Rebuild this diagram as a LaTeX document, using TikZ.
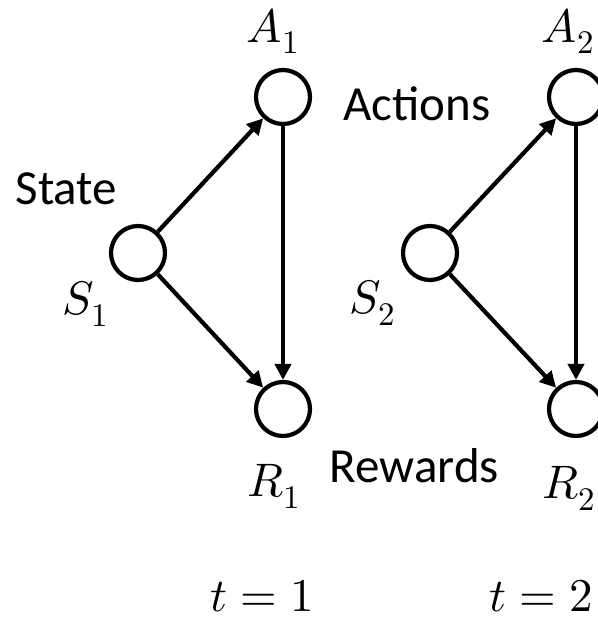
\documentclass[tikz,border=0pt]{standalone}
\usepackage{unicode-math}
\newfontfamily\carlito{Carlito}
\usetikzlibrary{positioning,arrows.meta}

\begin{document}
\begin{tikzpicture}[x=1pt,y=-1pt,
  stnode/.style={circle, draw=black, line width=4.2pt, minimum size=54pt, inner sep=0pt},
  flow/.style={-{Triangle[length=16pt,width=16pt]}, line width=4.2pt},
  wordlbl/.style={font=\carlito\fontsize{49}{58}\selectfont, inner sep=0pt},
  mathlbl/.style={font=\fontsize{47}{56}\selectfont, inner sep=0pt},
]
\useasboundingbox (0,0) rectangle (597,621);
% two time steps, the second one cut by the right edge
\node[stnode] (S1) at (138,253) {};
\node[stnode] (A1) at (283,97) {};
\node[stnode] (R1) at (283,409) {};
\node[stnode] (S2) at (430,253) {};
\node[stnode] (A2) at (576,97) {};
\node[stnode] (R2) at (576,409) {};
\foreach \k in {1,2} {
  \draw[flow] (S\k) -- (A\k);
  \draw[flow] (S\k) -- (R\k);
  \draw[flow] (A\k) -- (R\k);
}
\node[mathlbl, above=14pt of A1, xshift=-10pt] (lblA1) {$A_1$};
\node[mathlbl, below=26pt of R1, xshift=-9pt] (lblR1) {$R_1$};
\node[mathlbl, below left=8pt and 9pt of S1] (lblS1) {$S_1$};
\node[mathlbl, above=14pt of A2, xshift=-8pt] (lblA2) {$A_2$};
\node[mathlbl, below=28pt of R2, xshift=-7pt] (lblR2) {$R_2$};
\node[mathlbl, below left=7pt and 14pt of S2] (lblS2) {$S_2$};
\node[wordlbl, above left=27pt and 0pt of S1] (state) {State};
\node[wordlbl, right=31pt of A1, yshift=-7pt] (actions) {Actions};
\node[wordlbl, below right=19pt and 26pt of R1] (rewards) {Rewards};
\node[mathlbl, below=142pt of R1, xshift=-21pt] (time1) {$t=1$};
\node[mathlbl, below=142pt of R2, xshift=-35pt] (time2) {$t=2$};
\end{tikzpicture}
\end{document}
